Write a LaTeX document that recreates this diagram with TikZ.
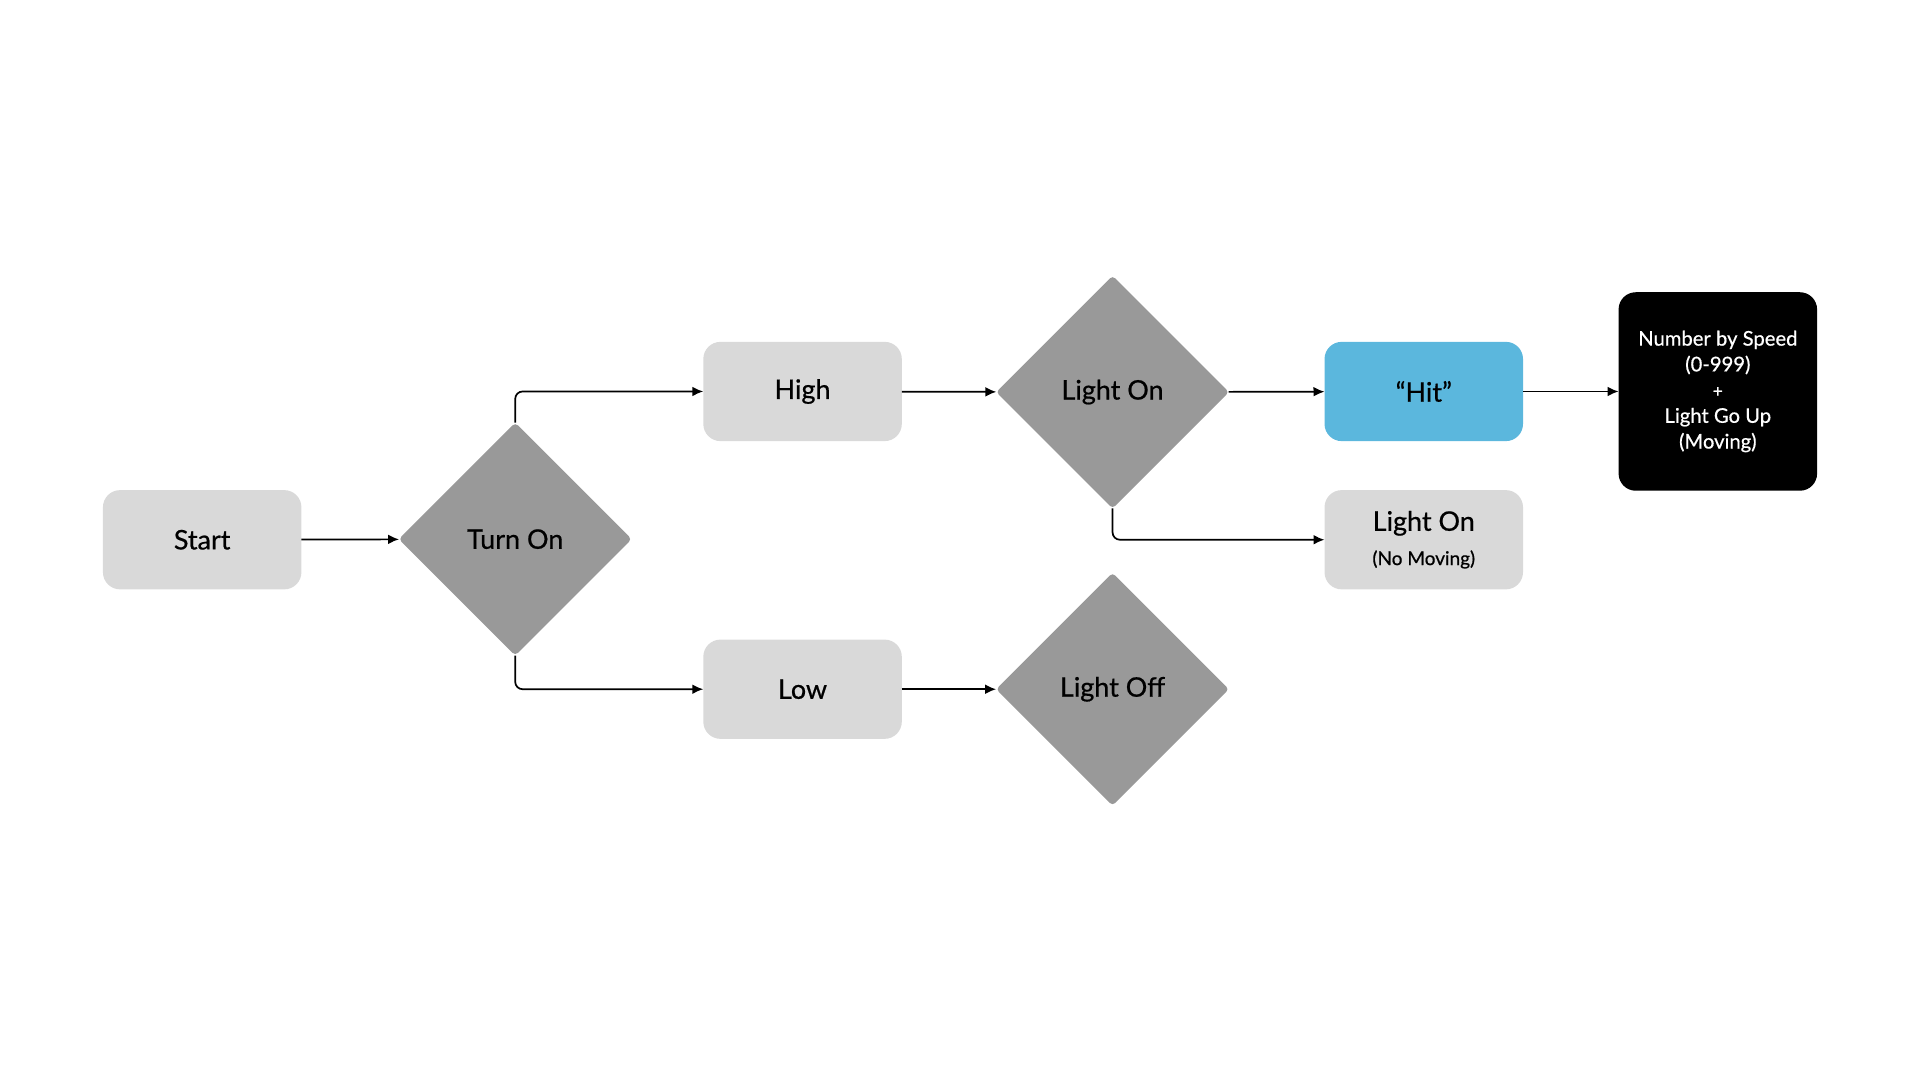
\documentclass[tikz,border=0pt]{standalone}
\usepackage{fontspec}
\setmainfont{Lato}[UprightFeatures={FakeBold=0.6}]
\usetikzlibrary{shapes.geometric,arrows.meta}
\definecolor{boxgrey}{RGB}{217,217,217}
\definecolor{diagrey}{RGB}{153,153,153}
\definecolor{hitblue}{RGB}{91,183,221}
\tikzset{
	stepbox/.style={
		fill=boxgrey, rounded corners=14, minimum width=162, minimum height=81,
		inner sep=0, outer sep=0, align=center,
		font=\fontsize{22}{26}\selectfont},
	decision/.style={
		diamond, aspect=1, fill=diagrey, rounded corners=3,
		minimum width=190, minimum height=190, inner sep=0, outer sep=0,
		font=\fontsize{22}{26}\selectfont},
	resultbox/.style={
		fill=black, text=white, rounded corners=14, minimum width=162, minimum height=162,
		inner sep=0, outer sep=0, align=center,
		font=\fontsize{16.5}{21}\selectfont},
	flow/.style={line width=1.4, -{Latex[length=9,width=8]}}
}

\begin{document}
\begin{tikzpicture}[x=1pt,y=1pt,yscale=-1,xscale=1]
\useasboundingbox (0,0) rectangle (1567,881.4); %page size of the reference

% boxes and decisions
\node[stepbox] (start) at (165,440.5) {Start};
\node[decision] (turnon) at (420.5,440) {Turn On};
\node[stepbox] (high) at (655,319.5) {High};
\node[stepbox] (low) at (655,562.5) {Low};
\node[decision] (lighton) at (908,320) {Light On};
\node[decision] (lightoff) at (908,562.5) {Light Off};
\node[stepbox, fill=hitblue] (hit) at (1162,319.5) {“Hit”};
\node[stepbox] (nomove) at (1162,440.5) {Light On\\[2pt]{\fontsize{15.5}{18}\selectfont(No Moving)}};
\node[resultbox] (number) at (1402,319.5) {Number by Speed\\(0-999)\\{\fontsize{14}{16}\selectfont+}\\Light Go Up\\(Moving)};

% connectors
\draw[flow] (start) -- (turnon);
\draw[flow, rounded corners=6] (turnon.north) |- (high.west);
\draw[flow, rounded corners=6] (turnon.south) |- (low.west);
\draw[flow] (high) -- (lighton);
\draw[flow] (low) -- (lightoff);
\draw[flow] (lighton) -- (hit);
\draw[flow, rounded corners=6] (lighton.south) |- (nomove.west);
\draw[flow] (hit) -- (number);

\end{tikzpicture}
\end{document}
